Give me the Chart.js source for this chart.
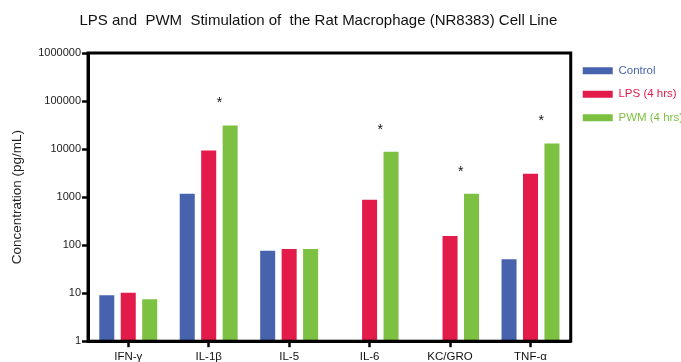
<!DOCTYPE html>
<html>
<head>
<meta charset="utf-8">
<script src="https://cdn.jsdelivr.net/npm/chart.js@4.4.1/dist/chart.umd.min.js"></script>
<style>
  html, body { margin: 0; padding: 0; background: #fff; }
  #wrap { width: 681px; height: 362px; position: relative; }
</style>
</head>
<body>
<div id="wrap"><canvas id="cytokines"></canvas></div>
<script>
const cytokines = ['IFN-γ', 'IL-1β', 'IL-5', 'IL-6', 'KC/GRO', 'TNF-α'];
const control = [9.1, 1170, 76, null, null, 51];
const lps4h = [10.2, 9300, 83, 880, 155, 3080];
const pwm4h = [7.5, 31000, 83, 8800, 1170, 13000];
// significance marks (*) over LPS/PWM pair
const significant = [false, true, false, true, true, true];
const yTicks = [1, 10, 100, 1000, 10000, 100000, 1000000];

const FONT = "'Liberation Sans', Arial, sans-serif";
const BLUE = '#4863ae';
const RED = '#e31b4b';
const GREEN = '#7dc142';

// box round the plot, plus the title over it
const framePlugin = {
  id: 'frame',
  afterDraw(chart) {
    const { ctx, chartArea: a } = chart;
    ctx.save();
    ctx.strokeStyle = '#000';
    ctx.lineWidth = 3;
    ctx.strokeRect(a.left, a.top, a.right - a.left, a.bottom - a.top);
    ctx.fillStyle = '#111';
    ctx.font = '15px ' + FONT;
    ctx.textAlign = 'center';
    ctx.textBaseline = 'middle';
    ctx.fillText('LPS and  PWM  Stimulation of  the Rat Macrophage (NR8383) Cell Line', (a.left + a.right) / 2 - 11, 21);
    ctx.restore();
  }
};

const starPlugin = {
  id: 'stars',
  afterDatasetsDraw(chart) {
    const { ctx } = chart;
    const lpsMeta = chart.getDatasetMeta(1);
    const pwmMeta = chart.getDatasetMeta(2);
    ctx.save();
    ctx.fillStyle = '#111';
    ctx.font = '14px ' + FONT;
    ctx.textAlign = 'center';
    ctx.textBaseline = 'middle';
    significant.forEach((s, i) => {
      if (!s) return;
      const x = (lpsMeta.data[i].x + pwmMeta.data[i].x) / 2;
      const y = pwmMeta.data[i].y - 22;
      ctx.fillText('*', x, y);
    });
    ctx.restore();
  }
};

new Chart(document.getElementById('cytokines'), {
  type: 'bar',
  data: {
    labels: cytokines,
    datasets: [
      { label: 'Control', data: control, backgroundColor: BLUE },
      { label: 'LPS (4 hrs)', data: lps4h, backgroundColor: RED },
      { label: 'PWM (4 hrs)', data: pwm4h, backgroundColor: GREEN }
    ]
  },
  options: {
    responsive: true,
    maintainAspectRatio: false,
    animation: false,
    datasets: {
      bar: { categoryPercentage: 0.8, barPercentage: 0.7, borderWidth: 0 }
    },
    layout: { padding: { top: 53, right: -12, bottom: -5, left: 9 } },
    plugins: {
      title: { display: false },
      tooltip: { enabled: false },
      legend: {
        position: 'right',
        align: 'start',
        labels: {
          boxWidth: 30,
          boxHeight: 7,
          padding: 12,
          font: { family: FONT, size: 11.5 },
          generateLabels(chart) {
            return chart.data.datasets.map((ds, i) => ({
              text: ds.label,
              fillStyle: ds.backgroundColor,
              strokeStyle: ds.backgroundColor,
              lineWidth: 0,
              fontColor: ds.backgroundColor,
              datasetIndex: i
            }));
          }
        }
      }
    },
    scales: {
      x: {
        offset: true,
        grid: {
          display: true,
          drawOnChartArea: false,
          tickLength: 6,
          tickWidth: 2.5,
          tickColor: '#000',
          offset: false
        },
        border: { display: true, color: '#000', width: 3 },
        ticks: { color: '#111', font: { family: FONT, size: 11.5 }, padding: 3, maxRotation: 0 }
      },
      y: {
        type: 'logarithmic',
        min: 1,
        max: 1000000,
        afterBuildTicks(scale) {
          scale.ticks = yTicks.map(v => ({ value: v }));
        },
        grid: {
          display: true,
          drawOnChartArea: false,
          tickLength: 6,
          tickWidth: 2.5,
          tickColor: '#000'
        },
        border: { display: true, color: '#000', width: 3 },
        ticks: {
          color: '#222',
          font: { family: FONT, size: 11 },
          padding: 1,
          callback: v => String(v)
        },
        title: {
          display: true,
          text: 'Concentration (pg/mL)',
          color: '#222',
          font: { family: FONT, size: 13.5 },
          padding: { top: 0, bottom: 12 }
        }
      }
    }
  },
  plugins: [framePlugin, starPlugin]
});
</script>
</body>
</html>
